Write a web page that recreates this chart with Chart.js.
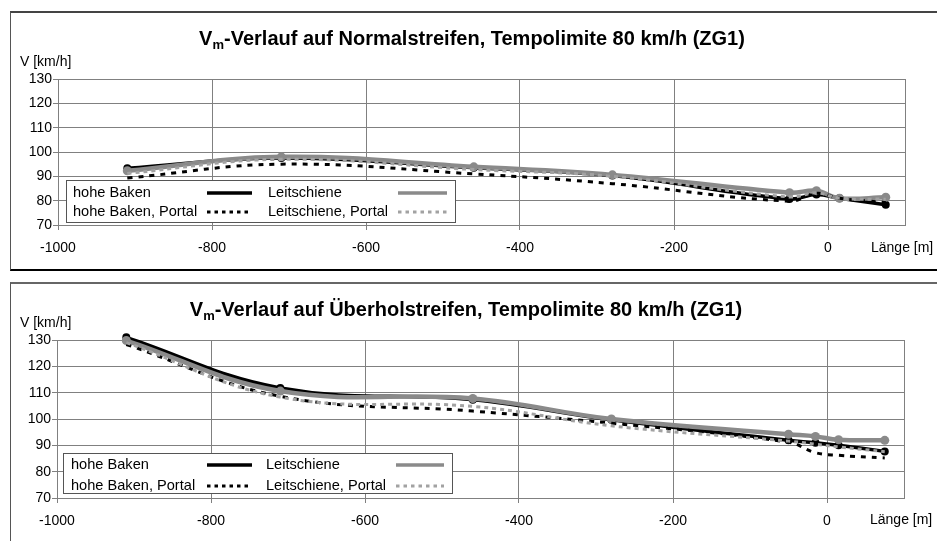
<!DOCTYPE html>
<html>
<head>
<meta charset="utf-8">
<script src="https://cdn.jsdelivr.net/npm/chart.js@4.4.1/dist/chart.umd.min.js"></script>
<style>
body { margin: 0; background: #fff; width: 937px; height: 541px; overflow: hidden; position: relative; }
.panel { position: absolute; left: 10px; width: 940px; border-left: 1px solid #555; border-top: 2px solid #444; background: #fff; }
#p1 { top: 11px; height: 256px; border-bottom: 2px solid #000; }
#p2 { top: 282px; height: 270px; border-top: 2px solid #666; }
canvas { display: block; }
</style>
</head>
<body>
<div class="panel" id="p1"><canvas id="chart1" width="926" height="256"></canvas></div>
<div class="panel" id="p2"><canvas id="chart2" width="926" height="257"></canvas></div>
<script>
var distance = [-910, -710, -460, -280, -50, -15, 15, 75];
var xTicks = [-1000, -800, -600, -400, -200, 0];
var seriesNames = ['hohe Baken', 'Leitschiene', 'hohe Baken, Portal', 'Leitschiene, Portal'];
var titles = ['-Verlauf auf Normalstreifen, Tempolimite 80 km/h (ZG1)',
              '-Verlauf auf \u00dcberholstreifen, Tempolimite 80 km/h (ZG1)'];

// Normalstreifen
var normBaken       = [93.3, 97.5, 93.5, 90.3, 80.7, 82.5, 81.0, 78.3];
var normLeit        = [92.3, 98.0, 93.9, 90.6, 83.3, 84.1, 81.0, 81.4];
var normBakenPortal = [89.3, 95.0, 91.0, 87.0, 79.8, 83.0, 81.0, 79.2];
var normLeitPortal  = [91.2, 97.0, 92.8, 90.0, 81.5, 83.2, 81.0, 80.6];

// Ueberholstreifen
var uebBaken       = [131.0, 111.8, 107.3, 99.7, 91.9, 91.0, 90.0, 87.7];
var uebLeit        = [129.8, 110.6, 107.8, 100.0, 94.2, 93.4, 92.1, 91.9];
var uebBakenPortal = [128.3, 108.6, 103.0, 98.4, 91.2, 87.2, 86.2, 85.2];
var uebLeitPortal  = [129.0, 108.3, 104.8, 97.4, 91.6, 90.4, 89.4, 87.6];

var FONT = '"Liberation Sans", Arial, sans-serif';

function pts(values) {
    return distance.map(function(d, i) { return { x: d, y: values[i] }; });
}

var styles = [
    { color: '#000000', width: 3.5, dash: [], radius: 4 },
    { color: '#8a8a8a', width: 4.5, dash: [], radius: 4.5 },
    { color: '#000000', width: 3, dash: [5, 6], radius: 0 },
    { color: '#a2a2a2', width: 3, dash: [4, 4], radius: 0 }
];

var decor = {
    id: 'decor',
    beforeDatasetsDraw: function(chart) {
        var ctx = chart.ctx, a = chart.chartArea;
        ctx.save();
        ctx.strokeStyle = '#808080';
        ctx.lineWidth = 1;
        ctx.strokeRect(Math.round(a.left) + 0.5, Math.round(a.top) + 0.5, Math.round(a.right - a.left), Math.round(a.bottom - a.top));
        ctx.restore();
    },
    afterDatasetsDraw: function(chart, args, o) {
        var ctx = chart.ctx;
        ctx.save();
        // title with subscript
        var big = 'bold 20px ' + FONT, small = 'bold 13px ' + FONT;
        ctx.fillStyle = '#000';
        ctx.textBaseline = 'alphabetic';
        ctx.textAlign = 'left';
        ctx.font = big;
        var w1 = ctx.measureText('V').width, w3 = ctx.measureText(o.title).width;
        ctx.font = small;
        var w2 = ctx.measureText('m').width;
        var x = o.titleX - (w1 + w2 + w3) / 2;
        ctx.font = big; ctx.fillText('V', x, o.titleY);
        ctx.font = small; ctx.fillText('m', x + w1, o.titleY + 4);
        ctx.font = big; ctx.fillText(o.title, x + w1 + w2, o.titleY);

        // axis titles
        ctx.font = '14px ' + FONT;
        ctx.textBaseline = 'middle';
        ctx.fillText('V [km/h]', o.yTitle[0], o.yTitle[1]);
        ctx.fillText('L\u00e4nge [m]', o.xTitle[0], o.xTitle[1]);

        // legend
        var L = o.legend;
        ctx.fillStyle = '#fff';
        ctx.fillRect(L.box[0], L.box[1], L.box[2] - L.box[0], L.box[3] - L.box[1]);
        ctx.strokeStyle = '#555';
        ctx.lineWidth = 1;
        ctx.strokeRect(L.box[0] + 0.5, L.box[1] + 0.5, L.box[2] - L.box[0], L.box[3] - L.box[1]);
        ctx.font = '14.6px ' + FONT;
        ctx.fillStyle = '#000';
        for (var i = 0; i < 4; i++) {
            var col = i % 2, row = Math.floor(i / 2);
            var y = L.rows[row];
            ctx.fillText(seriesNames[i], L.text[col], y);
            var s = styles[i];
            ctx.beginPath();
            ctx.setLineDash(s.dash.length ? [3.5, 4] : []);
            ctx.strokeStyle = s.color;
            ctx.lineWidth = s.dash.length ? 3 : 3.5;
            ctx.moveTo(L.sample[col][0], y);
            ctx.lineTo(L.sample[col][1], y);
            ctx.stroke();
        }
        ctx.restore();
    }
};

function makeChart(id, series, opt) {
    var order = [3, 2, 1, 0]; // later series drawn on top, as in the original
    var datasets = order.map(function(i) {
        var s = styles[i];
        return {
            label: seriesNames[i],
            data: pts(series[i]),
            borderColor: s.color,
            backgroundColor: s.color,
            borderWidth: s.width,
            borderDash: s.dash,
            pointRadius: s.radius,
            pointBorderWidth: 0,
            pointHoverRadius: s.radius,
            tension: 0.4,
            clip: 8,
            fill: false
        };
    });
    return new Chart(document.getElementById(id), {
        type: 'line',
        data: { datasets: datasets },
        plugins: [decor],
        options: {
            responsive: false,
            animation: false,
            events: [],
            layout: { padding: { top: opt.area.top, right: opt.area.right, left: 0, bottom: 0 } },
            plugins: {
                legend: { display: false },
                title: { display: false },
                tooltip: { enabled: false },
                decor: opt
            },
            scales: {
                x: {
                    type: 'linear',
                    min: -1000,
                    max: 100,
                    afterBuildTicks: function(scale) {
                        scale.ticks = xTicks.map(function(v) { return { value: v }; });
                    },
                    afterFit: function(scale) { scale.height = opt.area.xh; },
                    ticks: {
                        color: '#000',
                        font: { family: FONT, size: 14 },
                        padding: opt.area.xpad,
                        maxRotation: 0,
                        autoSkip: false,
                        callback: function(v) { return String(v); }
                    },
                    grid: { color: '#808080', lineWidth: 1, tickLength: 5 },
                    border: { color: '#808080' }
                },
                y: {
                    min: 70,
                    max: 130,
                    afterFit: function(scale) { scale.width = opt.area.left; },
                    ticks: {
                        stepSize: 10,
                        color: '#000',
                        font: { family: FONT, size: 14 },
                        padding: 1
                    },
                    grid: { color: '#808080', lineWidth: 1, tickLength: 5 },
                    border: { color: '#808080' }
                }
            }
        }
    });
}

makeChart('chart1', [normBaken, normLeit, normBakenPortal, normLeitPortal], {
    title: titles[0], titleX: 461, titleY: 32,
    yTitle: [9, 49], xTitle: [860, 235],
    area: { top: 66, right: 32, left: 47, xh: 44, xpad: 10 },
    legend: { box: [55, 167, 444, 209], rows: [180, 199], text: [62, 257],
              sample: [[196, 241], [387, 436]] }
});

makeChart('chart2', [uebBaken, uebLeit, uebBakenPortal, uebLeitPortal], {
    title: titles[1], titleX: 455, titleY: 32,
    yTitle: [9, 39], xTitle: [859, 236],
    area: { top: 56, right: 33, left: 46, xh: 43, xpad: 10 },
    legend: { box: [52, 169, 441, 209], rows: [181, 202], text: [60, 255],
              sample: [[196, 241], [385, 433]] }
});
</script>
</body>
</html>
